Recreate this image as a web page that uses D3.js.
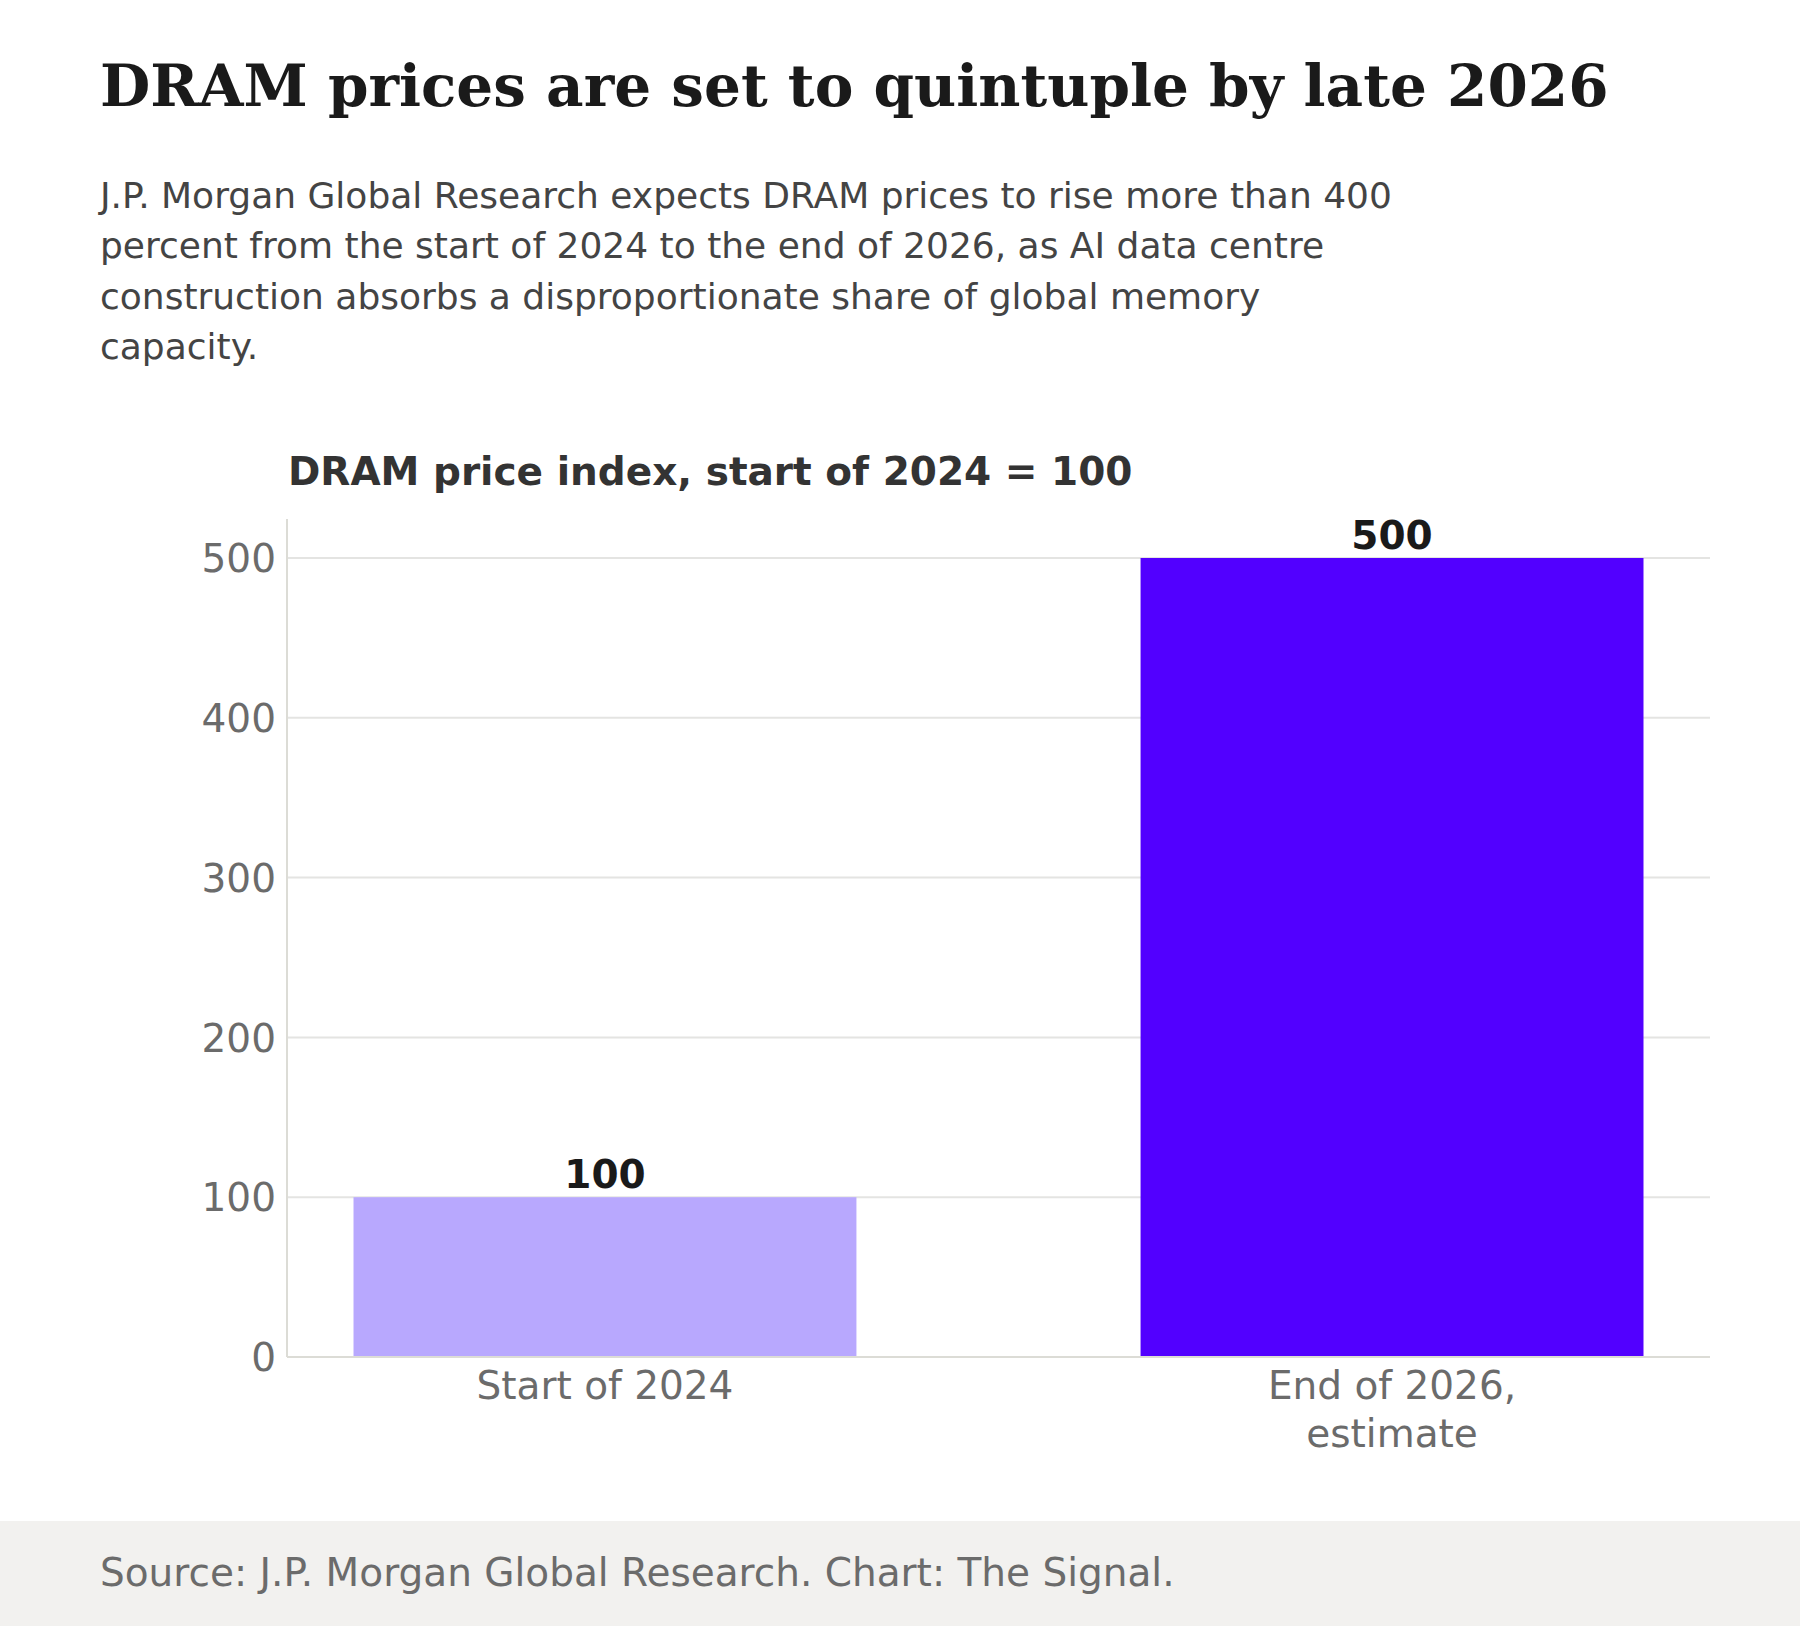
<!DOCTYPE html>
<html>
<head>
<meta charset="utf-8">
<script src="https://cdn.jsdelivr.net/npm/d3@7"></script>
<style>
  html, body { margin: 0; padding: 0; background: #ffffff; }
  svg { display: block; }
</style>
</head>
<body>
<script>
// ---- Data ----
const categories = [["Start of 2024"], ["End of 2026,", "estimate"]];
const categoryKeys = ["Start of 2024", "End of 2026, estimate"];
const values = [100, 500];
const barColors = ["#b8a8fe", "#5200ff"];
const yTicks = [0, 100, 200, 300, 400, 500];

const titleText = "DRAM prices are set to quintuple by late 2026";
const subtitleLines = [
  "J.P. Morgan Global Research expects DRAM prices to rise more than 400",
  "percent from the start of 2024 to the end of 2026, as AI data centre",
  "construction absorbs a disproportionate share of global memory",
  "capacity."
];
const chartLabel = "DRAM price index, start of 2024 = 100";
const sourceText = "Source: J.P. Morgan Global Research. Chart: The Signal.";

// ---- Layout ----
const W = 1800, H = 1626;
const sans = "'DejaVu Sans', sans-serif";
const serif = "'DejaVu Serif', serif";

const svg = d3.select("body").append("svg").attr("width", W).attr("height", H);
svg.append("rect").attr("width", W).attr("height", H).attr("fill", "#ffffff");

// Title
svg.append("text").attr("x", 100).attr("y", 106)
  .attr("font-family", serif).attr("font-weight", "bold").attr("font-size", 58)
  .attr("fill", "#1a1a1a").text(titleText);

// Subtitle
svg.append("g").selectAll("text").data(subtitleLines).join("text")
  .attr("x", 100).attr("y", (d, i) => 208 + i * 50.3)
  .attr("font-family", sans).attr("font-size", 36)
  .attr("fill", "#444444").text(d => d);

// Chart label
svg.append("text").attr("x", 288).attr("y", 485)
  .attr("font-family", sans).attr("font-weight", "bold").attr("font-size", 39)
  .attr("fill", "#333333").text(chartLabel);

// Scales
const x = d3.scaleBand().domain(categoryKeys).range([287, 1710])
  .paddingInner(0.361).paddingOuter(0.0845);
const y = d3.scaleLinear().domain([0, 500]).range([1357, 558]);

// Gridlines
svg.append("g").selectAll("line").data(yTicks.filter(d => d > 0)).join("line")
  .attr("x1", 287).attr("x2", 1710)
  .attr("y1", d => y(d)).attr("y2", d => y(d))
  .attr("stroke", "#e4e4e2").attr("stroke-width", 2);

// Bars
svg.append("g").selectAll("rect").data(values).join("rect")
  .attr("x", (d, i) => x(categoryKeys[i]))
  .attr("width", x.bandwidth())
  .attr("y", d => y(d))
  .attr("height", d => y(0) - y(d))
  .attr("fill", (d, i) => barColors[i]);

// Y axis
const yAxis = svg.append("g").attr("transform", "translate(287,0)")
  .call(d3.axisLeft(y).tickValues(yTicks).tickSize(0).tickPadding(11));
yAxis.select(".domain").attr("d", "M0,519V1357").attr("stroke", "#dcdcd6").attr("stroke-width", 2);
yAxis.selectAll("text").attr("font-family", sans).attr("font-size", 39)
  .attr("fill", "#6b6b6b").attr("dy", "0.35em");

// X axis
const xAxis = svg.append("g").attr("transform", "translate(0,1357)")
  .call(d3.axisBottom(x).tickSize(0).tickPadding(0));
xAxis.select(".domain").attr("d", "M287,0H1710").attr("stroke", "#dcdcd6").attr("stroke-width", 2);
xAxis.selectAll(".tick text").each(function(d, i) {
  const t = d3.select(this);
  t.text(null).attr("y", 0).attr("dy", null)
    .attr("font-family", sans).attr("font-size", 39).attr("fill", "#6b6b6b");
  categories[i].forEach((line, j) => {
    t.append("tspan").attr("x", 0).attr("y", 42 + j * 48).text(line);
  });
});

// Value labels
svg.append("g").selectAll("text").data(values).join("text")
  .attr("x", (d, i) => x(categoryKeys[i]) + x.bandwidth() / 2)
  .attr("y", d => y(d) - 9)
  .attr("text-anchor", "middle")
  .attr("font-family", sans).attr("font-weight", "bold").attr("font-size", 39)
  .attr("fill", "#1a1a1a").text(d => d);

// Footer
svg.append("rect").attr("x", 0).attr("y", 1521).attr("width", W).attr("height", H - 1521)
  .attr("fill", "#f2f1ef");
svg.append("text").attr("x", 100).attr("y", 1586)
  .attr("font-family", sans).attr("font-size", 39)
  .attr("fill", "#6b6b6b").text(sourceText);
</script>
</body>
</html>
